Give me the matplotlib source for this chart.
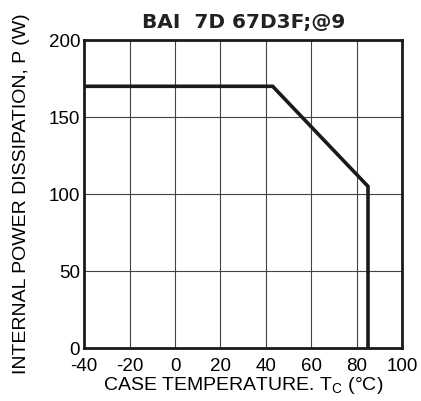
import matplotlib.pyplot as plt

plt.rcParams['font.family'] = ['Liberation Sans', 'DejaVu Sans']
plt.rcParams['axes.unicode_minus'] = False

# derating curve
temp = [-40, 43, 85, 85]
power = [170, 170, 105, 0]

xticks = [-40, -20, 0, 20, 40, 60, 80, 100]
yticks = [0, 50, 100, 150, 200]

fig = plt.figure(figsize=(4.21, 4.01), dpi=100)
ax = fig.add_axes([0.2, 0.132, 0.755, 0.768])

ax.plot(temp, power, color='#1a1a1a', lw=2.6, solid_joinstyle='miter', zorder=3)

ax.set_xlim(-40, 100)
ax.set_ylim(0, 200)
ax.set_xticks(xticks)
ax.set_yticks(yticks)
ax.tick_params(length=0, labelsize=13.5)
ax.tick_params(axis='x', pad=7)
ax.tick_params(axis='y', pad=3)
ax.grid(True, color='#444444', lw=0.8)
for s in ax.spines.values():
    s.set_linewidth(2)
    s.set_color('#1a1a1a')

ax.set_xlabel('CASE TEMPERATURE. T$_\\mathregular{C}$ (°C)', fontsize=14, labelpad=0)
ax.set_ylabel('INTERNAL POWER DISSIPATION, P (W)', fontsize=14, labelpad=13)
ax.set_title('BAI  7D 67D3F;@9', fontsize=14.5, fontweight='bold', pad=9,
             family=['DejaVu Sans'], color='#222222')

fig.savefig('out.png', dpi=100)
